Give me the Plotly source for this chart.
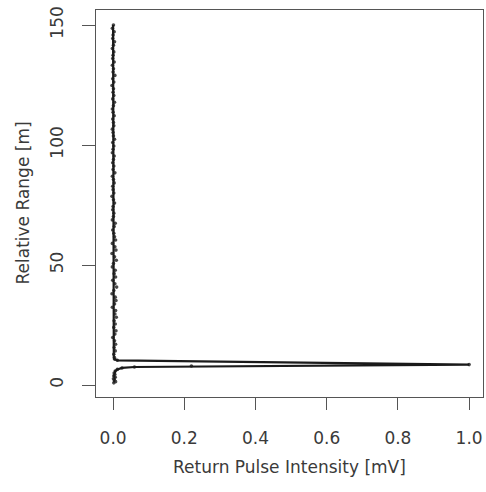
import plotly.graph_objects as go

# Raw range samples [m] and return pulse intensity [mV]
range_far = [150.0, 148.6, 147.2, 145.8, 144.4, 143.0, 141.6, 140.2, 138.8, 137.4,
             136.0, 134.6, 133.2, 131.8, 130.4, 129.0, 127.6, 126.2, 124.8, 123.4,
             122.0, 120.6, 119.2, 117.8, 116.4, 115.0, 113.6, 112.2, 110.8, 109.4,
             108.0, 106.6, 105.2, 103.8, 102.4, 101.0, 99.6, 98.2, 96.8, 95.4,
             94.0, 92.6, 91.2, 89.8, 88.4, 87.0, 85.6, 84.2, 82.8, 81.4,
             80.0, 78.6, 77.2, 75.8, 74.4, 73.0, 71.6, 70.2, 68.8, 67.4,
             66.0, 64.6, 63.2, 61.8, 60.4, 59.0, 57.6, 56.2, 54.8, 53.4,
             52.0, 50.6, 49.2, 47.8, 46.4, 45.0, 43.6, 42.2, 40.8, 39.4,
             38.0, 36.6, 35.2, 33.8, 32.4, 31.0, 29.6, 28.2, 26.8, 25.4,
             24.0, 22.6, 21.2, 19.8, 18.4, 17.0, 15.6, 14.2, 12.8, 11.4]
intensity_far = [0.001, -0.002, 0.003, 0.000, -0.001, 0.004, 0.001, -0.002, 0.002, 0.000,
                 -0.001, 0.003, -0.002, 0.001, 0.000, 0.005, -0.001, 0.002, -0.003, 0.001,
                 0.000, 0.002, -0.001, 0.004, 0.001, -0.002, 0.000, 0.003, -0.001, 0.001,
                 0.002, -0.002, 0.000, 0.001, 0.004, -0.001, 0.002, 0.000, -0.002, 0.003,
                 0.001, -0.001, 0.002, 0.000, 0.005, -0.002, 0.001, 0.003, -0.001, 0.000,
                 0.002, -0.003, 0.001, 0.004, 0.000, -0.001, 0.002, 0.001, -0.002, 0.006,
                 0.003, -0.001, 0.002, 0.004, 0.007, -0.002, 0.005, 0.008, -0.003, 0.004,
                 0.009, 0.001, -0.002, 0.006, 0.003, 0.007, -0.001, 0.005, 0.010, 0.002,
                 -0.003, 0.006, 0.008, 0.004, -0.002, 0.007, 0.005, 0.009, 0.003, 0.006,
                 0.002, 0.008, 0.005, -0.001, 0.004, 0.007, 0.003, 0.006, 0.002, 0.004]
range_near = [10.8, 10.3, 8.5, 7.9, 7.5, 7.1, 6.5, 5.8, 5.0, 4.4, 3.8, 3.2, 2.6, 2.0, 1.4, 0.9]
intensity_near = [0.004, 0.012, 1.0, 0.22, 0.06, 0.025, 0.012, 0.006, 0.003, 0.005,
                  0.002, 0.006, 0.001, 0.004, 0.007, 0.002]

# Fitted waveform (line)
fit_range = [150.0, 120.0, 90.0, 60.0, 40.0, 20.0, 11.4, 10.8, 10.3, 8.5, 7.9, 7.5,
             7.1, 6.5, 5.8, 5.0, 4.0, 3.0, 2.0, 1.0]
fit_intensity = [0.000, 0.000, 0.001, 0.001, 0.002, 0.002, 0.002, 0.004, 0.012, 1.0,
                 0.22, 0.06, 0.025, 0.012, 0.006, 0.004, 0.003, 0.004, 0.003, 0.003]

x_ticks = [0.0, 0.2, 0.4, 0.6, 0.8, 1.0]
x_tick_labels = ["0.0", "0.2", "0.4", "0.6", "0.8", "1.0"]
y_ticks = [0, 50, 100, 150]
y_tick_labels = ["0", "50", "100", "150"]

FONT = "DejaVu Sans"
TXT = "#3a3a3a"
AX = "#555555"

fig = go.Figure()
fig.add_trace(go.Scatter(
    x=intensity_far + intensity_near, y=range_far + range_near, mode="markers",
    marker=dict(color="#4a4a4a", size=3.6),
    showlegend=False, hoverinfo="skip",
))
fig.add_trace(go.Scatter(
    x=fit_intensity, y=fit_range, mode="lines",
    line=dict(color="#1a1a1a", width=2.2),
    showlegend=False, hoverinfo="skip",
))

fig.update_layout(
    width=486, height=492,
    margin=dict(l=96, r=3, t=10, b=95),
    paper_bgcolor="white", plot_bgcolor="white",
    font=dict(family=FONT, size=17, color=TXT),
    xaxis=dict(range=[-0.048, 1.039], tickvals=x_ticks, ticktext=x_tick_labels,
               showgrid=False, zeroline=False, showline=True, mirror=True,
               linecolor=AX, linewidth=1, ticks="outside", ticklen=12,
               tickcolor=AX, tickwidth=1, ticklabelstandoff=14,
               tickfont=dict(family=FONT, size=17, color=TXT)),
    yaxis=dict(range=[-5.0, 156.25], tickvals=y_ticks, ticktext=y_tick_labels,
               showgrid=False, zeroline=False, showline=True, mirror=True,
               linecolor=AX, linewidth=1, ticks="outside", ticklen=13,
               tickcolor=AX, tickwidth=1, tickangle=-90, ticklabelstandoff=12,
               tickfont=dict(family=FONT, size=17, color=TXT)),
    annotations=[
        dict(text="Return Pulse Intensity [mV]", xref="paper", yref="paper",
             x=0.5, y=-70 / 387, xanchor="center", yanchor="middle",
             showarrow=False, font=dict(family=FONT, size=17, color=TXT)),
        dict(text="Relative Range [m]", xref="paper", yref="paper",
             x=-74 / 387, y=0.5, xanchor="center", yanchor="middle",
             textangle=-90, showarrow=False,
             font=dict(family=FONT, size=17, color=TXT)),
    ],
)

fig.write_html("out.html")
